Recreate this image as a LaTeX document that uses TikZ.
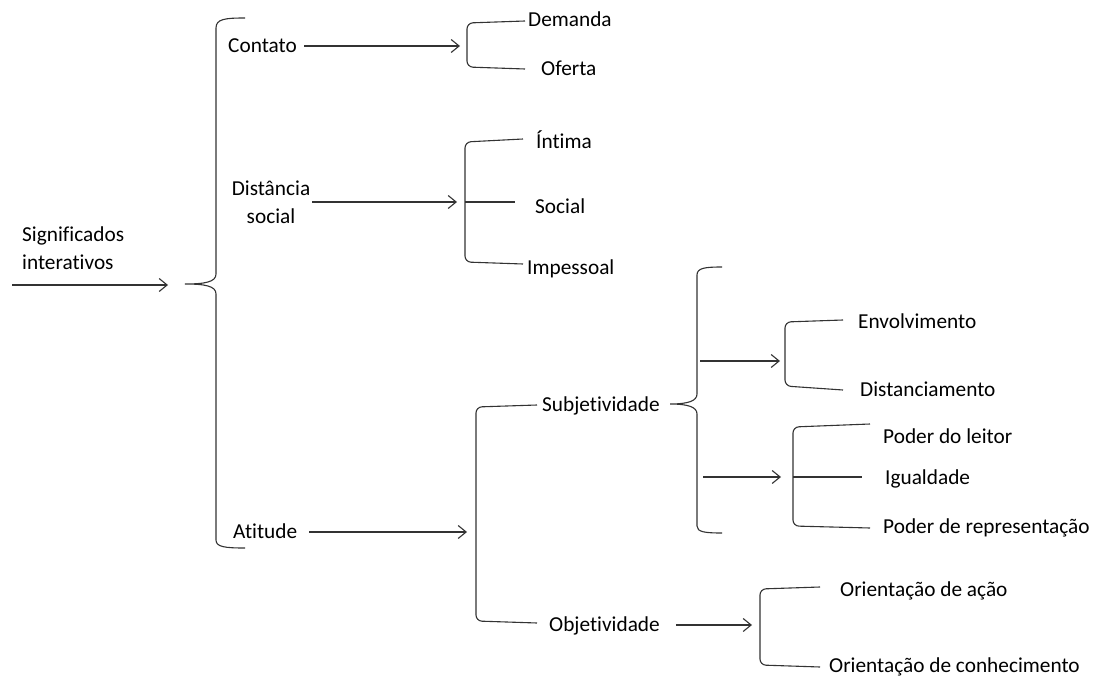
\documentclass[tikz,border=0pt]{standalone}
\usepackage{fontspec}
\setmainfont{Carlito}[Ligatures={NoCommon,NoContextual}]
\usetikzlibrary{arrows.meta}
\begin{document}
\begin{tikzpicture}[x=1pt,y=-1pt,
  lbl/.style={anchor=west,inner sep=0pt,yshift=-3pt,font=\fontsize{21.3}{24}\selectfont,text height=0.66em,text depth=0.02em},
  two/.style={inner sep=0pt,font=\fontsize{21.3}{28}\selectfont},
  ln/.style={draw=black!80,line width=1.1pt},
  bkt/.style={ln,rounded corners=6pt},
  arr/.style={ln,-{Straight Barb[length=8pt,width=13pt]}}]
\useasboundingbox (0,0) rectangle (1098,682);

% root
\node[two,anchor=west,align=left] (sig) at (22,248) {Significados\\interativos};
\coordinate (a0s) at (12,285);
\coordinate (a0e) at (168,285);
\draw[arr] (a0s) -- (a0e);

% brace 1
\coordinate (b1tip) at (185,284);
\draw[ln] (245,18) .. controls (225,18) and (216,19) .. (216,28) -- (216,274)
  .. controls (216,282) and (205,284) .. (b1tip)
  .. controls (205,284) and (216,286) .. (216,294) -- (216,540)
  .. controls (216,547) and (225,548) .. (245,548);

% Contato
\node[lbl] (cont) at (228,46) {Contato};
\coordinate (c1) at (460,46);
\draw[arr] ([xshift=7pt,yshift=3pt]cont.east) -- (c1);
\draw[bkt] (525,21) -- (467,23) -- (467,67) -- (525,69);
\node[lbl] (dem) at (528,20) {Demanda};
\node[lbl] (ofe) at (541,69) {Oferta};

% Distancia social
\node[two,align=center] (dist) at (271,202) {Distância\\social};
\coordinate (d0) at (312,202);
\coordinate (d1) at (457,202);
\draw[arr] (d0) -- (d1);
\draw[bkt] (523,139) -- (465,142) -- (465,262) -- (523,264);
\coordinate (dm0) at (465,202);
\coordinate (dm1) at (515,202);
\draw[ln] (dm0) -- (dm1);
\node[lbl] (int) at (536,142) {Íntima};
\node[lbl] (soc) at (535,207) {Social};
\node[lbl] (imp) at (527,268) {Impessoal};

% Atitude
\node[lbl] (ati) at (233,532) {Atitude};
\coordinate (at1) at (467,532);
\draw[arr] ([xshift=12pt,yshift=3pt]ati.east) -- (at1);
\draw[bkt] (537,405) -- (476,407) -- (476,621) -- (537,623);
\node[lbl] (subj) at (542,405) {Subjetividade};
\node[lbl] (obj) at (549,625) {Objetividade};

% brace 2
\coordinate (b2tip) at (670,404);
\draw[ln] (722,267) .. controls (705,267) and (697,268) .. (697,275) -- (697,394)
  .. controls (697,401) and (688,404) .. (b2tip)
  .. controls (688,404) and (697,407) .. (697,414) -- (697,526)
  .. controls (697,532) and (705,533) .. (722,533);

% Envolvimento
\coordinate (e0) at (700,361);
\coordinate (e1) at (780,361);
\draw[arr] (e0) -- (e1);
\draw[bkt] (843,320) -- (785,322) -- (785,386) -- (843,390);
\node[lbl] (env) at (858,322) {Envolvimento};
\node[lbl] (dis) at (860,390) {Distanciamento};

% Poder
\coordinate (p0) at (703,477);
\coordinate (p1) at (781,477);
\draw[arr] (p0) -- (p1);
\draw[bkt] (870,424) -- (793,427) -- (793,526) -- (870,528);
\coordinate (pm0) at (793,477);
\coordinate (pm1) at (862,477);
\draw[ln] (pm0) -- (pm1);
\node[lbl] (pdl) at (883,437) {Poder do leitor};
\node[lbl] (igu) at (885,478) {Igualdade};
\node[lbl] (pdr) at (883,527) {Poder de representação};

% Objetividade
\coordinate (o1) at (752,625);
\draw[arr] ([xshift=16pt,yshift=3pt]obj.east) -- (o1);
\draw[bkt] (820,587) -- (760,589) -- (760,665) -- (820,667);
\node[lbl] (ora) at (840,590) {Orientação de ação};
\node[lbl] (orc) at (829,666) {Orientação de conhecimento};
\end{tikzpicture}
\end{document}
